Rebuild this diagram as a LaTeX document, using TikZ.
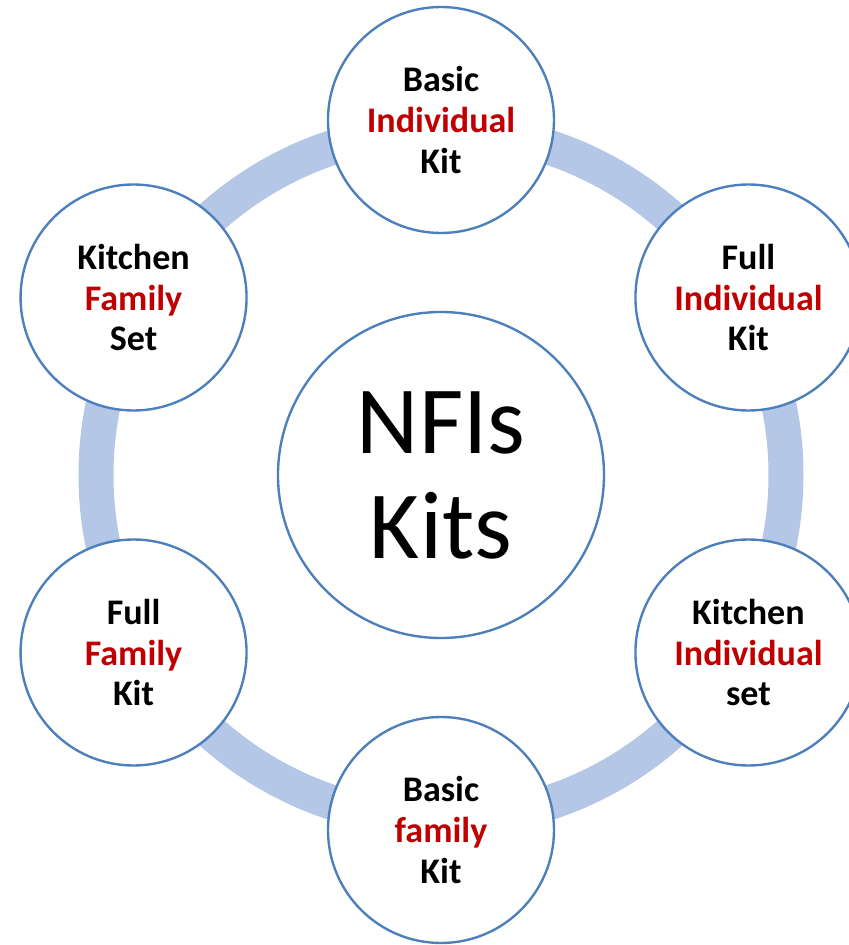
\documentclass[tikz,border=0pt]{standalone}
\usepackage{fontspec}
\setmainfont{Carlito}
\usepackage{tikz}
\pgfdeclarelayer{bg}
\pgfsetlayers{bg,main}
\definecolor{ringblue}{RGB}{180,199,231}
\definecolor{edgeblue}{RGB}{76,127,188}
\definecolor{kitred}{RGB}{192,0,0}
\tikzset{
  kit/.style={circle, draw=edgeblue, line width=1.35pt, fill=white,
    minimum size=4.52cm, inner sep=0pt, align=center,
    font=\fontsize{20.5}{23.3}\selectfont\bfseries},
  hub/.style={circle, draw=edgeblue, line width=1.35pt, fill=white,
    minimum size=6.52cm, inner sep=0pt, align=center,
    font=\fontsize{54.8}{59.8}\selectfont}
}
\newcommand{\rd}[1]{\textcolor{kitred}{#1}}

\begin{document}
\begin{tikzpicture}
    \clip (-8.82,-9.4) rectangle (8.16,9.5);
    \node [hub] (nfis) at (0,0) {NFIs\\Kits};
    \node [kit] (basicind) at (90:7.1) {Basic\\\rd{Individual}\\Kit};
    \node [kit] (fullind) at (30:7.1) {Full\\\rd{Individual}\\Kit};
    \node [kit] (kitchenind) at (-30:7.1) {Kitchen\\\rd{Individual}\\set};
    \node [kit] (basicfam) at (-90:7.1) {Basic\\\rd{family}\\Kit};
    \node [kit] (fullfam) at (-150:7.1) {Full\\\rd{Family}\\Kit};
    \node [kit] (kitchenfam) at (150:7.1) {Kitchen\\\rd{Family}\\Set};

    \begin{pgfonlayer}{bg}    % ring behind the kits
      \draw [ringblue, line width=0.7cm] (nfis.center) circle (6.9);
    \end{pgfonlayer}
  \end{tikzpicture}
\end{document}
